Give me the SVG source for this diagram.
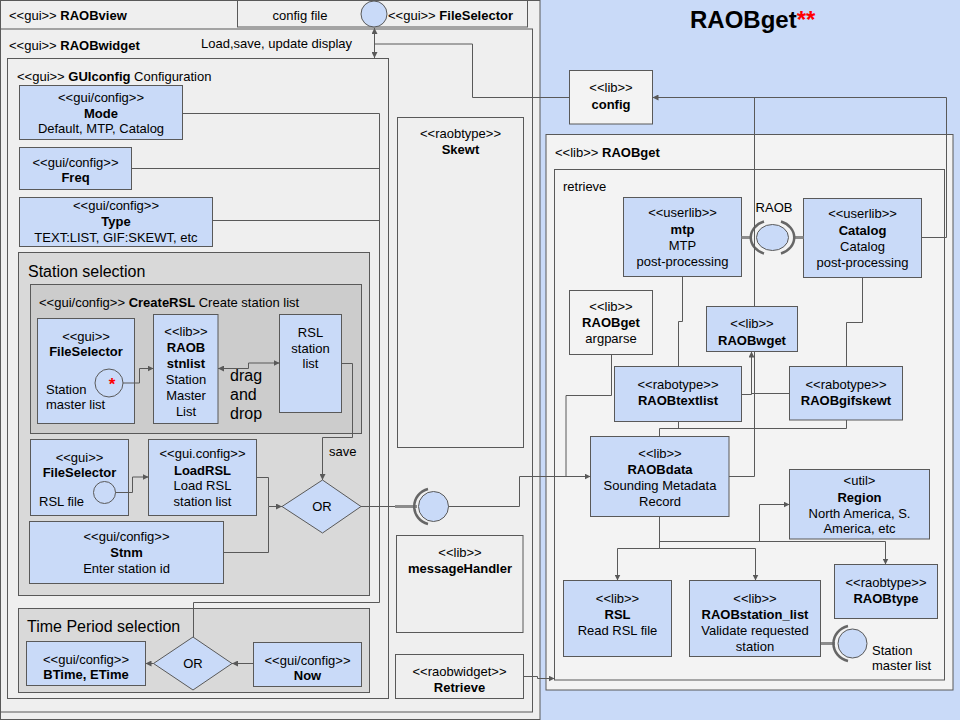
<svg xmlns="http://www.w3.org/2000/svg" width="960" height="720" viewBox="0 0 960 720">
<defs>
<style>
.bx{fill:#c9daf8;stroke:#595959;stroke-width:1}
.lb{fill:#f3f3f3;stroke:#595959;stroke-width:1}
.ct{fill:#efefef;stroke:#595959;stroke-width:1}
.g1{fill:#d9d9d9;stroke:#595959;stroke-width:1}
.g2{fill:#cccccc;stroke:#595959;stroke-width:1}
text{font-family:"Liberation Sans",Arial,sans-serif;font-size:13px;fill:#000}
.c{text-anchor:middle}
.b{font-weight:bold}
.big{font-size:16px}
.cn{fill:none;stroke:#595959;stroke-width:1}
.ar{marker-end:url(#ah)}
.da{marker-start:url(#ah);marker-end:url(#ah)}
.th{fill:none;stroke:#8c8c8c;stroke-width:3}
.sk{fill:none;stroke:#666;stroke-width:2.5}
.ball{fill:#c9daf8;stroke:#595959;stroke-width:1}
</style>
<marker id="ah" viewBox="0 0 6 6" refX="6" refY="3" markerWidth="6" markerHeight="6" markerUnits="userSpaceOnUse" orient="auto-start-reverse">
<path d="M0,0 L6,3 L0,6 z" fill="#595959"/>
</marker>
</defs>

<rect x="540" y="0" width="420" height="720" fill="#c9daf8"/>

<g id="RAOBview">
<rect class="ct" x="0.5" y="0.5" width="539.5" height="719"/>
<text x="9" y="20">&lt;&lt;gui&gt;&gt; <tspan class="b">RAOBview</tspan></text>
</g>
<g id="configfile">
<rect class="ct" x="237.5" y="0.5" width="290" height="26.5"/>
<text class="c" x="300" y="20">config file</text>
<circle class="ball" cx="374" cy="14" r="13"/>
<text x="388" y="20">&lt;&lt;gui&gt;&gt; <tspan class="b">FileSelector</tspan></text>
</g>
<g id="RAOBwidget">
<rect class="ct" x="0.5" y="29" width="532" height="683"/>
<text x="9" y="50">&lt;&lt;gui&gt;&gt; <tspan class="b">RAOBwidget</tspan></text>
<text x="201" y="48">Load,save, update display</text>
</g>
<g id="GUIconfig">
<rect class="ct" x="7.5" y="58.5" width="381" height="640"/>
<text x="17" y="80.5">&lt;&lt;gui&gt;&gt; <tspan class="b">GUIconfig</tspan> Configuration</text>
</g>
<g id="Mode">
<rect class="bx" x="19.5" y="85.5" width="163" height="54"/>
<text class="c" x="101" y="101.5">&lt;&lt;gui/config&gt;&gt;</text>
<text class="c b" x="101" y="117.5">Mode</text>
<text class="c" x="101" y="133">Default, MTP, Catalog</text>
</g>
<g id="Freq">
<rect class="bx" x="19.5" y="147.5" width="112" height="42"/>
<text class="c" x="75.5" y="166.5">&lt;&lt;gui/config&gt;&gt;</text>
<text class="c b" x="75.5" y="182">Freq</text>
</g>
<g id="Type">
<rect class="bx" x="19.5" y="197.5" width="193" height="49"/>
<text class="c" x="116" y="209.5">&lt;&lt;gui/config&gt;&gt;</text>
<text class="c b" x="116" y="226">Type</text>
<text class="c" x="116" y="241.5">TEXT:LIST, GIF:SKEWT, etc</text>
</g>
<g id="StationSelection">
<rect class="g1" x="18.5" y="252.5" width="351" height="343"/>
<text class="big" x="28" y="277">Station selection</text>
</g>
<g id="CreateRSL">
<rect class="g2" x="30.5" y="284.5" width="331" height="149"/>
<text x="39" y="306.5">&lt;&lt;gui/config&gt;&gt; <tspan class="b">CreateRSL</tspan> Create station list</text>
</g>
<g id="FileSelectorStation">
<rect class="bx" x="37.5" y="318.5" width="97" height="105"/>
<text class="c" x="86" y="340.5">&lt;&lt;gui&gt;&gt;</text>
<text class="c b" x="86" y="355.5">FileSelector</text>
<text x="46" y="393.5">Station</text>
<text x="46" y="409">master list</text>
<circle class="ball" cx="109" cy="383" r="14"/>
<text class="c" x="112" y="390" style="fill:#ff0000;font-size:17px;font-weight:bold">*</text>
</g>
<g id="RAOBstnlist">
<rect class="bx" x="153.5" y="314.5" width="64.5" height="109"/>
<text class="c" x="186" y="335.5">&lt;&lt;lib&gt;&gt;</text>
<text class="c b" x="186" y="352">RAOB</text>
<text class="c b" x="186" y="368">stnlist</text>
<text class="c" x="186" y="384">Station</text>
<text class="c" x="186" y="400">Master</text>
<text class="c" x="186" y="416">List</text>
</g>
<g id="dragdrop">
<text class="big" x="230" y="381">drag</text>
<text class="big" x="230" y="400">and</text>
<text class="big" x="230" y="418.5">drop</text>
</g>
<g id="RSLstationlist">
<rect class="bx" x="279.5" y="314.5" width="62" height="98"/>
<text class="c" x="310.5" y="336.5">RSL</text>
<text class="c" x="310.5" y="352.5">station</text>
<text class="c" x="310.5" y="368">list</text>
</g>
<g id="FileSelectorRSL">
<rect class="bx" x="30.5" y="439.5" width="98" height="76"/>
<text class="c" x="79.5" y="461.5">&lt;&lt;gui&gt;&gt;</text>
<text class="c b" x="79.5" y="476.5">FileSelector</text>
<text x="39" y="505.5">RSL file</text>
<circle class="ball" cx="104.5" cy="492.5" r="11"/>
</g>
<g id="LoadRSL">
<rect class="bx" x="148.5" y="439.5" width="108" height="76"/>
<text class="c" x="202.5" y="457.5">&lt;&lt;gui.config&gt;&gt;</text>
<text class="c b" x="202.5" y="474.5">LoadRSL</text>
<text class="c" x="202.5" y="490">Load RSL</text>
<text class="c" x="202.5" y="506">station list</text>
</g>
<g id="Stnm">
<rect class="bx" x="29.5" y="521.5" width="194" height="62"/>
<text class="c" x="126.5" y="541">&lt;&lt;gui/config&gt;&gt;</text>
<text class="c b" x="126.5" y="556.5">Stnm</text>
<text class="c" x="126.5" y="573">Enter station id</text>
</g>
<g id="StationOR">
<polygon class="bx" points="282,506.5 322.5,480 361,506.5 322.5,533"/>
<text class="c" x="322" y="511">OR</text>
</g>
<g id="TimePeriod">
<rect class="g1" x="18.5" y="608.5" width="351" height="84"/>
<text class="big" x="27" y="632">Time Period selection</text>
</g>
<g id="BTime">
<rect class="bx" x="26.5" y="641.5" width="119" height="44"/>
<text class="c" x="86" y="663.5">&lt;&lt;gui/config&gt;&gt;</text>
<text class="c b" x="86" y="678.5">BTime, ETime</text>
</g>
<g id="TimeOR">
<polygon class="bx" points="153.5,663.5 193,637 232,663.5 193,690"/>
<text class="c" x="193" y="668">OR</text>
</g>
<g id="Now">
<rect class="bx" x="253.5" y="642.5" width="108" height="44"/>
<text class="c" x="307.5" y="664.5">&lt;&lt;gui/config&gt;&gt;</text>
<text class="c b" x="307.5" y="680">Now</text>
</g>
<g id="Skewt">
<rect class="ct" x="397.5" y="117.5" width="126" height="330"/>
<text class="c" x="460.5" y="137.5">&lt;&lt;raobtype&gt;&gt;</text>
<text class="c b" x="460.5" y="153.5">Skewt</text>
</g>
<g id="messageHandler">
<rect class="ct" x="396.5" y="535.5" width="126.5" height="97"/>
<text class="c" x="460" y="556.5">&lt;&lt;lib&gt;&gt;</text>
<text class="c b" x="460" y="573">messageHandler</text>
</g>
<g id="Retrieve">
<rect class="ct" x="395.5" y="654.5" width="128" height="44"/>
<text class="c" x="459.5" y="676">&lt;&lt;raobwidget&gt;&gt;</text>
<text class="c b" x="459.5" y="692">Retrieve</text>
</g>

<g id="Title">
<text x="690" y="28" style="font-size:24px;font-weight:bold">RAOBget<tspan style="fill:#ff0000">**</tspan></text>
</g>
<g id="config">
<rect class="lb" x="569.5" y="70.5" width="83" height="53.5"/>
<text class="c" x="611" y="92">&lt;&lt;lib&gt;&gt;</text>
<text class="c b" x="611" y="109">config</text>
</g>
<g id="RAOBgetLib">
<rect class="lb" x="546" y="134.5" width="407" height="555.5"/>
<text x="555" y="157">&lt;&lt;lib&gt;&gt; <tspan class="b">RAOBget</tspan></text>
</g>
<g id="retrieve">
<rect class="lb" x="554.5" y="169.5" width="390" height="510.5"/>
<text x="563" y="190.5">retrieve</text>
</g>
<g id="mtp">
<rect class="bx" x="623.5" y="197.5" width="118" height="79"/>
<text class="c" x="682.5" y="216.5">&lt;&lt;userlib&gt;&gt;</text>
<text class="c b" x="682.5" y="233.5">mtp</text>
<text class="c" x="682.5" y="249.5">MTP</text>
<text class="c" x="682.5" y="265.5">post-processing</text>
</g>
<g id="Catalog">
<rect class="bx" x="803.5" y="198.5" width="118" height="79"/>
<text class="c" x="862.5" y="217.5">&lt;&lt;userlib&gt;&gt;</text>
<text class="c b" x="862.5" y="234.5">Catalog</text>
<text class="c" x="862.5" y="250.5">Catalog</text>
<text class="c" x="862.5" y="266.5">post-processing</text>
</g>
<g id="RAOBinterface">
<text class="c" x="774" y="212">RAOB</text>
<path class="th" d="M741.5,237.5 H752 M793,237.5 H803.5"/>
<path class="sk" d="M764,221.5 A20,17 0 0 0 764,253.5 M781,221.5 A20,17 0 0 1 781,253.5"/>
<ellipse class="ball" cx="772.5" cy="237.5" rx="16" ry="13"/>
</g>
<g id="argparse">
<rect class="lb" x="569.5" y="290.5" width="83" height="64"/>
<text class="c" x="611" y="311">&lt;&lt;lib&gt;&gt;</text>
<text class="c b" x="611" y="327">RAOBget</text>
<text class="c" x="611" y="343">argparse</text>
</g>
<g id="RAOBwget">
<rect class="bx" x="706.5" y="306.5" width="91" height="45"/>
<text class="c" x="752" y="327.5">&lt;&lt;lib&gt;&gt;</text>
<text class="c b" x="752" y="344.5">RAOBwget</text>
</g>
<g id="RAOBtextlist">
<rect class="bx" x="614.5" y="366.5" width="127" height="55"/>
<text class="c" x="678" y="388.5">&lt;&lt;rabotype&gt;&gt;</text>
<text class="c b" x="678" y="404.5">RAOBtextlist</text>
</g>
<g id="RAOBgifskewt">
<rect class="bx" x="789.5" y="366.5" width="113" height="53.5"/>
<text class="c" x="846" y="388.5">&lt;&lt;rabotype&gt;&gt;</text>
<text class="c b" x="846" y="404.5">RAOBgifskewt</text>
</g>
<g id="RAOBdata">
<rect class="bx" x="590.5" y="436.5" width="138.5" height="80"/>
<text class="c" x="660" y="457.5">&lt;&lt;lib&gt;&gt;</text>
<text class="c b" x="660" y="474">RAOBdata</text>
<text class="c" x="660" y="490">Sounding Metadata</text>
<text class="c" x="660" y="506">Record</text>
</g>
<g id="Region">
<rect class="bx" x="789.5" y="469.5" width="140" height="69.5"/>
<text class="c" x="859.5" y="484.5">&lt;util&gt;</text>
<text class="c b" x="859.5" y="501.5">Region</text>
<text class="c" x="859.5" y="517.5">North America, S.</text>
<text class="c" x="859.5" y="532.5">America, etc</text>
</g>
<g id="RSL">
<rect class="bx" x="563.5" y="580.5" width="108" height="76"/>
<text class="c" x="617.5" y="602.5">&lt;&lt;lib&gt;&gt;</text>
<text class="c b" x="617.5" y="618.5">RSL</text>
<text class="c" x="617.5" y="634.5">Read RSL file</text>
</g>
<g id="RAOBstation_list">
<rect class="bx" x="689.5" y="580.5" width="131" height="76"/>
<text class="c" x="755" y="602.5">&lt;&lt;lib&gt;&gt;</text>
<text class="c b" x="755" y="618.5">RAOBstation_list</text>
<text class="c" x="755" y="634.5">Validate requested</text>
<text class="c" x="755" y="650.5">station</text>
</g>
<g id="RAOBtype">
<rect class="bx" x="834.5" y="564.5" width="103" height="54"/>
<text class="c" x="886" y="586.5">&lt;&lt;raobtype&gt;&gt;</text>
<text class="c b" x="886" y="602.5">RAOBtype</text>
</g>
<g id="StationMasterInterface">
<path class="th" d="M821,643.5 H835"/>
<path class="sk" d="M848,626 A19,18 0 0 0 848,661"/>
<circle class="ball" cx="852.5" cy="643.5" r="14.5"/>
<text x="872" y="654.5">Station</text>
<text x="872" y="670">master list</text>
</g>
<g id="RetrieveInterface">
<path class="th" d="M395,506.5 H417"/>
<path class="sk" d="M428,489 A18,18 0 0 0 428,524"/>
<circle class="ball" cx="433.5" cy="506.5" r="15"/>
</g>

<g id="connectors">
<path class="cn da" d="M374.5,28 V58"/>
<path class="cn" d="M374.5,44 H472.5 V97.5 H569.5"/>
<path class="cn" d="M182.5,113.5 H379.5 M131.5,168.5 H379.5 M212.5,220.5 H379.5"/>
<path class="cn" d="M379.5,113.5 V602.5 H193.5 V637"/>
<path class="cn ar" d="M123,383 H139.5 V368.5 H153.5"/>
<path class="cn da" d="M218,368.5 H248.5 V363 H279.5"/>
<path class="cn ar" d="M341.5,363.5 H352.5 V437.5 H322.5 V480"/>
<text x="329" y="455.5">save</text>
<path class="cn ar" d="M115.5,492.5 H132.5 V477 H148.5"/>
<path class="cn ar" d="M256.5,477.5 H268.5 V506.5 H282"/>
<path class="cn" d="M223.5,552.5 H268.5 V506.5"/>
<path class="cn ar" d="M153.5,663.5 H145.5"/>
<path class="cn ar" d="M253.5,663.5 H232"/>
<path class="cn" d="M361,506.5 H395"/>
<path class="cn ar" d="M448.5,506.5 H519.5 V476.5 H590.5"/>
<path class="cn" d="M611.5,354.5 V395.5 H566 V476.5"/>
<path class="cn ar" d="M523.5,676.5 H537.5 V678.5 H554.5"/>
<path class="cn ar" d="M921.5,237.5 H946.5 V97.5 H652.5"/>
<path class="cn" d="M754.5,306.5 V97.5"/>
<path class="cn" d="M682.5,276.5 V321.5 H678.5 V366.5"/>
<path class="cn" d="M862.5,277.5 V322.5 H846.5 V366.5"/>
<path class="cn ar" d="M741.5,394.5 H751.5 V351.5"/>
<path class="cn" d="M789.5,393.5 H752"/>
<path class="cn" d="M729,476.5 H754.5 V351.5"/>
<path class="cn" d="M678.5,421.5 V428.5 M659.5,436.5 V428.5 H846.5 V420"/>
<path class="cn ar" d="M659.5,516.5 V548.5 H617.5 V580.5"/>
<path class="cn ar" d="M659.5,548.5 H755.5 V580.5"/>
<path class="cn ar" d="M659.5,541.5 H885.5 V564.5"/>
<path class="cn ar" d="M659.5,541.5 H759.5 V504.5 H789.5"/>
</g>
</svg>
